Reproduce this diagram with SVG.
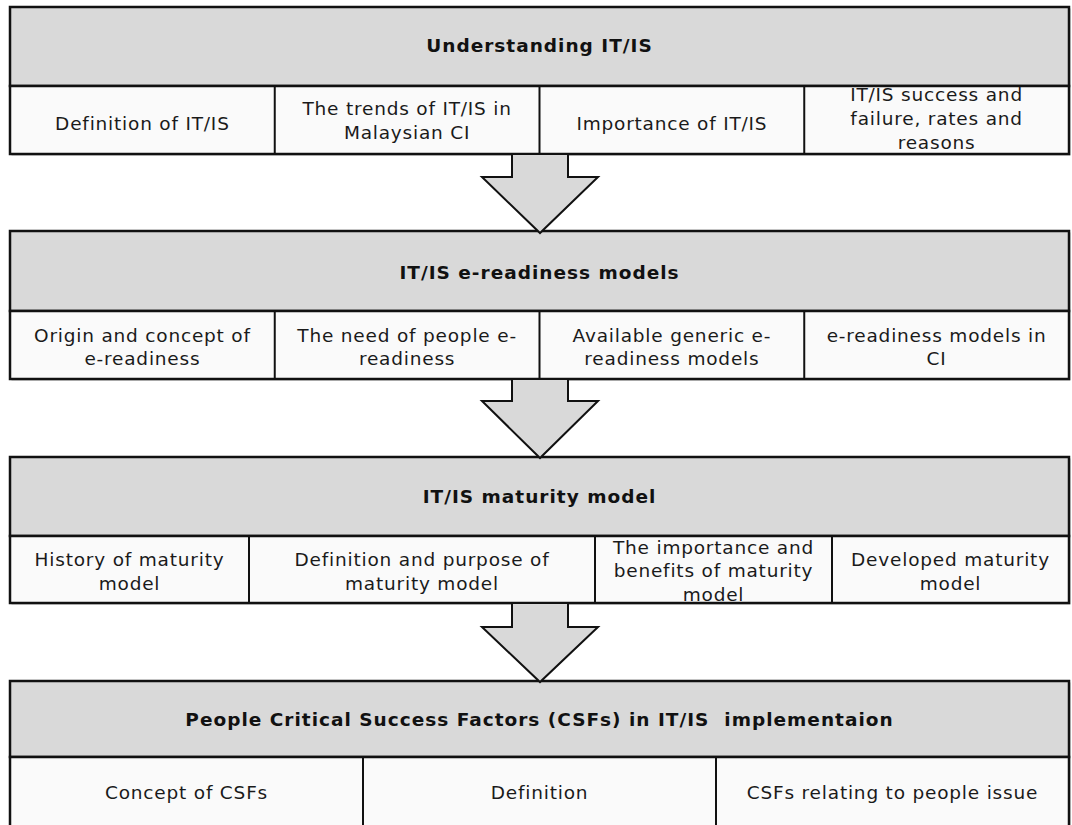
<svg xmlns="http://www.w3.org/2000/svg" width="1072" height="825" viewBox="0 0 1072 825">
  <style>
    .shadow { fill: #b8b8b8; }
    .head { fill: #d9d9d9; stroke: #111; stroke-width: 2.5; }
    .cell { fill: #fafafa; stroke: #111; stroke-width: 2.5; }
    .div { stroke: #111; stroke-width: 2; fill: none; }
    .arrow { fill: #d9d9d9; stroke: #111; stroke-width: 2; stroke-linejoin: miter; }
    .title { font-family: "DejaVu Sans", "Liberation Sans", sans-serif; font-weight: bold; font-size: 18.5px; letter-spacing: 1px; fill: #111; text-anchor: middle; }
    .txt { font-family: "DejaVu Sans", "Liberation Sans", sans-serif; font-size: 18.5px; letter-spacing: 0.8px; fill: #1a1a1a; text-anchor: middle; }
  </style>

  <!-- Block 1: Understanding IT/IS -->
  <g id="block-understanding">
    <rect class="shadow" x="11.5" y="8.5" width="1059" height="147"/>
    <rect class="head" x="10" y="7" width="1059" height="79"/>
    <rect class="cell" x="10" y="86" width="1059" height="68"/>
    <line class="div" x1="274.75" y1="86" x2="274.75" y2="154"/>
    <line class="div" x1="539.5" y1="86" x2="539.5" y2="154"/>
    <line class="div" x1="804.25" y1="86" x2="804.25" y2="154"/>
    <text class="title" x="539.5" y="51.5">Understanding IT/IS</text>
    <text class="txt" x="142.4" y="130">Definition of IT/IS</text>
    <text class="txt" x="407.1" y="115">The trends of IT/IS in</text>
    <text class="txt" x="407.1" y="139">Malaysian CI</text>
    <text class="txt" x="671.9" y="130">Importance of IT/IS</text>
    <text class="txt" x="936.6" y="101">IT/IS success and</text>
    <text class="txt" x="936.6" y="125">failure, rates and</text>
    <text class="txt" x="936.6" y="149">reasons</text>
  </g>

  <!-- Block 2: IT/IS e-readiness models -->
  <g id="block-ereadiness">
    <rect class="shadow" x="11.5" y="232.5" width="1059" height="148"/>
    <rect class="head" x="10" y="231" width="1059" height="80"/>
    <rect class="cell" x="10" y="311" width="1059" height="68"/>
    <line class="div" x1="274.75" y1="311" x2="274.75" y2="379"/>
    <line class="div" x1="539.5" y1="311" x2="539.5" y2="379"/>
    <line class="div" x1="804.25" y1="311" x2="804.25" y2="379"/>
    <text class="title" x="539.5" y="279">IT/IS e-readiness models</text>
    <text class="txt" x="142.4" y="341.5">Origin and concept of</text>
    <text class="txt" x="142.4" y="365">e-readiness</text>
    <text class="txt" x="407.1" y="341.5">The need of people e-</text>
    <text class="txt" x="407.1" y="365">readiness</text>
    <text class="txt" x="671.9" y="341.5">Available generic e-</text>
    <text class="txt" x="671.9" y="365">readiness models</text>
    <text class="txt" x="936.6" y="341.5">e-readiness models in</text>
    <text class="txt" x="936.6" y="365">CI</text>
  </g>

  <!-- Block 3: IT/IS maturity model -->
  <g id="block-maturity">
    <rect class="shadow" x="11.5" y="458.5" width="1059" height="146"/>
    <rect class="head" x="10" y="457" width="1059" height="79"/>
    <rect class="cell" x="10" y="536" width="1059" height="67"/>
    <line class="div" x1="249" y1="536" x2="249" y2="603"/>
    <line class="div" x1="595" y1="536" x2="595" y2="603"/>
    <line class="div" x1="832" y1="536" x2="832" y2="603"/>
    <text class="title" x="539.5" y="503">IT/IS maturity model</text>
    <text class="txt" x="129.5" y="566">History of maturity</text>
    <text class="txt" x="129.5" y="589.5">model</text>
    <text class="txt" x="422" y="566">Definition and purpose of</text>
    <text class="txt" x="422" y="589.5">maturity model</text>
    <text class="txt" x="713.5" y="553.5">The importance and</text>
    <text class="txt" x="713.5" y="577">benefits of maturity</text>
    <text class="txt" x="713.5" y="600.5">model</text>
    <text class="txt" x="950.5" y="566">Developed maturity</text>
    <text class="txt" x="950.5" y="589.5">model</text>
  </g>

  <!-- Block 4: People CSFs -->
  <g id="block-csfs">
    <rect class="shadow" x="11.5" y="682.5" width="1059" height="146"/>
    <rect class="head" x="10" y="681" width="1059" height="76"/>
    <rect class="cell" x="10" y="757" width="1059" height="70"/>
    <line class="div" x1="363" y1="757" x2="363" y2="827"/>
    <line class="div" x1="716" y1="757" x2="716" y2="827"/>
    <text class="title" x="539.5" y="725.5" xml:space="preserve">People Critical Success Factors (CSFs) in IT/IS  implementaion</text>
    <text class="txt" x="186.5" y="798.5">Concept of CSFs</text>
    <text class="txt" x="539.5" y="798.5">Definition</text>
    <text class="txt" x="892.5" y="798.5">CSFs relating to people issue</text>
  </g>

  <!-- Block arrows between stages -->
  <g id="connectors">
    <polygon class="arrow" points="512,154 568,154 568,177 598,177 540,233 482,177 512,177"/>
    <polygon class="arrow" points="512,379 568,379 568,401 598,401 540,458 482,401 512,401"/>
    <polygon class="arrow" points="512,603 568,603 568,627 598,627 540,682 482,627 512,627"/>
  </g>
</svg>
